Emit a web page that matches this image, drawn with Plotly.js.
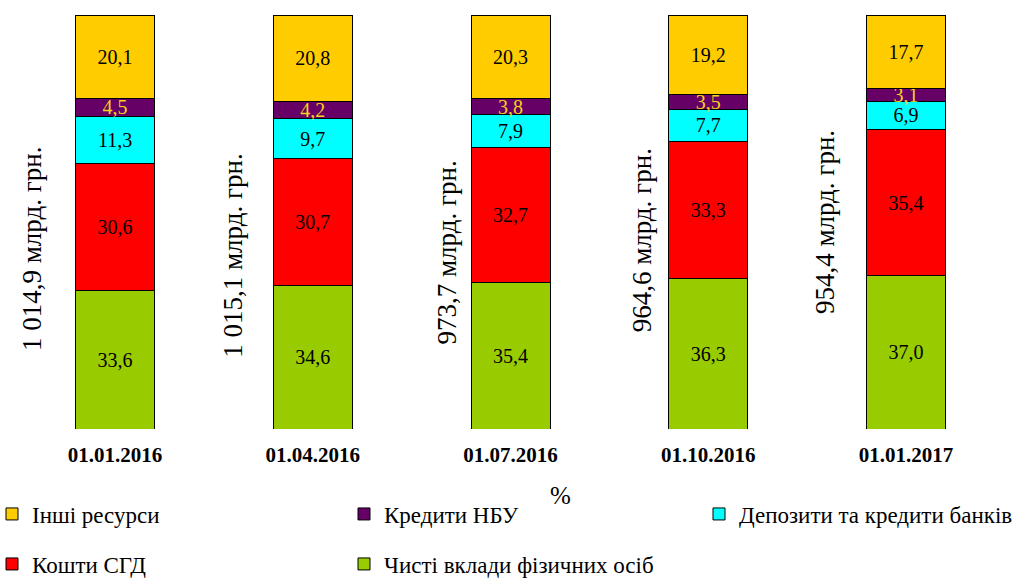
<!DOCTYPE html>
<html>
<head>
<meta charset="utf-8">
<script src="https://cdn.plot.ly/plotly-3.0.1.min.js"></script>
<style>html,body{margin:0;padding:0;background:#fff;}#chart{width:1020px;height:580px;}</style>
</head>
<body>
<div id="chart"></div>
<script>
const categories = ['01.01.2016', '01.04.2016', '01.07.2016', '01.10.2016', '01.01.2017'];
const totals = [1014.9, 1015.1, 973.7, 964.6, 954.4];
const seriesNames = ['Чисті вклади фізичних осіб', 'Кошти СГД', 'Депозити та кредити банків', 'Кредити НБУ', 'Інші ресурси'];
const netDeposits = [33.6, 34.6, 35.4, 36.3, 37.0];
const corpFunds = [30.6, 30.7, 32.7, 33.3, 35.4];
const bankDeposits = [11.3, 9.7, 7.9, 7.7, 6.9];
const nbuCredits = [4.5, 4.2, 3.8, 3.5, 3.1];
const otherRes = [20.1, 20.8, 20.3, 19.2, 17.7];

const seriesValues = [netDeposits, corpFunds, bankDeposits, nbuCredits, otherRes];
const colors = ['#99CC00', '#FF0000', '#00FFFF', '#660066', '#FFCC00'];
const textColors = ['#000000', '#000000', '#000000', '#F2D21C', '#000000'];
const legendIds = ['legend5', 'legend4', 'legend3', 'legend2', 'legend'];

const serif = 'Liberation Serif';

const traces = seriesValues.map((vals, i) => ({
  type: 'bar',
  name: seriesNames[i],
  x: categories,
  y: vals,
  marker: {color: colors[i], line: {color: '#000000', width: 1}},
  texttemplate: '%{y:.1f}',
  textposition: 'inside',
  insidetextanchor: 'middle',
  constraintext: 'none',
  textfont: {family: serif, size: 20, color: textColors[i]},
  legend: legendIds[i],
  hoverinfo: 'skip'
}));

function fmtTotal(v) {
  const parts = v.toFixed(1).split('.');
  const intPart = parts[0].replace(/\B(?=(\d{3})+(?!\d))/g, ' ');
  return intPart + ',' + parts[1] + ' млрд. грн.';
}

// layout-only geometry (px)
const plotLeft = 15, plotW = 990, plotTop = 15, plotH = 414;
const px2x = p => (p - plotLeft) / plotW;
const py2y = p => 1 - (p - plotTop) / plotH;
const totalXShift = [-83, -80, -64, -66, -81];
const totalYPx = [249, 256, 253, 240, 222];

const annotations = categories.map((c, i) => ({
  x: c, xref: 'x',
  y: py2y(totalYPx[i]), yref: 'paper',
  xshift: totalXShift[i],
  text: fmtTotal(totals[i]),
  textangle: -90,
  showarrow: false,
  font: {family: serif, size: 27, color: '#000000'},
  xanchor: 'center', yanchor: 'middle'
}));
annotations.push({
  x: px2x(560), xref: 'paper',
  y: py2y(495), yref: 'paper',
  text: '%', showarrow: false,
  font: {family: serif, size: 25, color: '#000000'},
  xanchor: 'center', yanchor: 'middle'
});

function leg(xpx, ypx) {
  return {
    xref: 'paper', yref: 'paper',
    x: px2x(xpx), y: py2y(ypx),
    xanchor: 'left', yanchor: 'middle',
    orientation: 'v',
    bgcolor: 'rgba(0,0,0,0)',
    borderwidth: 0,
    font: {family: serif, size: 23, color: '#000000'},
    itemclick: false, itemdoubleclick: false
  };
}

const layout = {
  width: 1020, height: 580,
  font: {family: serif, color: '#000000'},
  margin: {l: plotLeft, r: 1020 - plotLeft - plotW, t: plotTop, b: 580 - plotTop - plotH, autoexpand: false},
  paper_bgcolor: '#ffffff', plot_bgcolor: '#ffffff',
  barmode: 'stack',
  bargap: 0.6,
  separators: ', ',
  showlegend: true,
  xaxis: {
    type: 'category',
    showline: false, showgrid: false, zeroline: false,
    ticks: 'outside', ticklen: 7, tickcolor: 'rgba(0,0,0,0)',
    tickfont: {family: serif, size: 21, color: '#000000', weight: 'bold'}
  },
  yaxis: {range: [0, 100.1], visible: false, showgrid: false, zeroline: false},
  legend: leg(-8, 514),
  legend2: leg(344, 514),
  legend3: leg(699, 514),
  legend4: leg(-8, 564),
  legend5: leg(344, 564),
  annotations: annotations
};

Plotly.newPlot('chart', traces, layout, {staticPlot: true, displayModeBar: false});
</script>
</body>
</html>
